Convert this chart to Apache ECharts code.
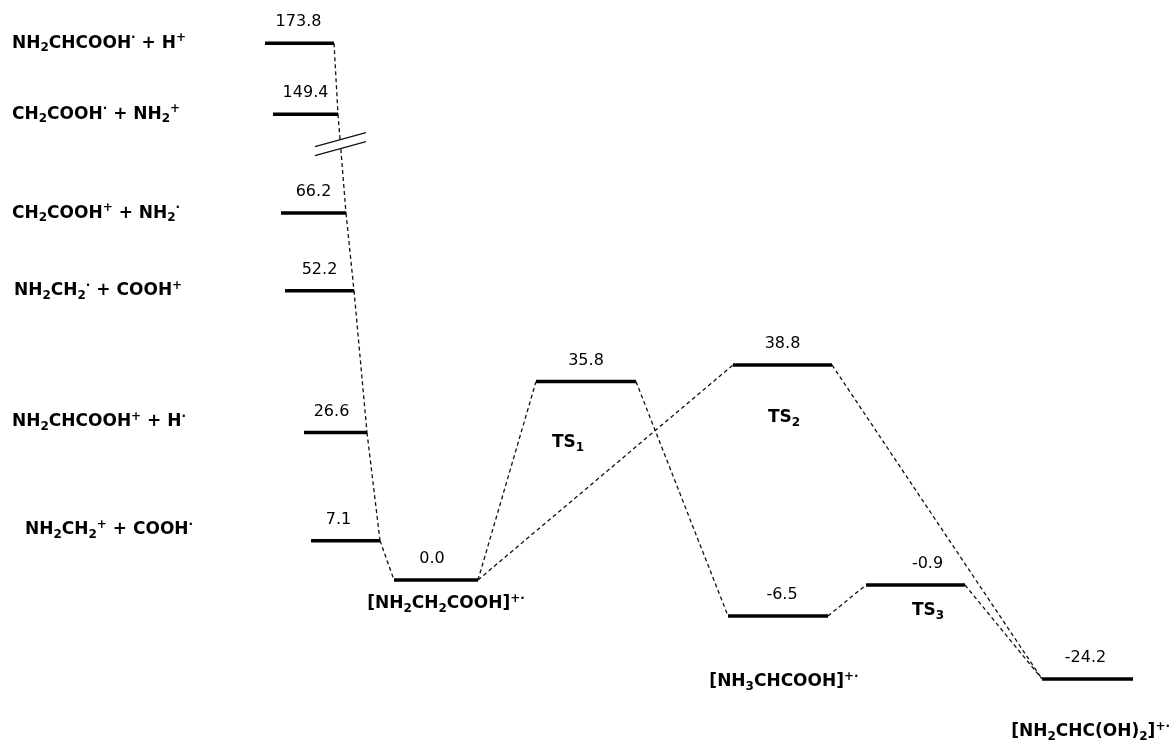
<!DOCTYPE html>
<html>
<head>
<meta charset="utf-8">
<script src="https://cdn.jsdelivr.net/npm/echarts@6.0.0/dist/echarts.min.js"></script>
<style>
  html, body { margin: 0; padding: 0; background: #fff; }
  #chart { width: 1171px; height: 740px; }
</style>
</head>
<body>
<div id="chart"></div>
<script>
// relative energies of each level
var energies = [173.8, 149.4, 66.2, 52.2, 26.6, 7.1, 0.0, 35.8, 38.8, -6.5, -0.9, -24.2];
// species / state names (rich text: s = subscript, p = superscript)
var species = [
    'NH{s|2}CHCOOH{p|·} + H{p|+}',
    'CH{s|2}COOH{p|·} + NH{s|2}{p|+}',
    'CH{s|2}COOH{p|+} + NH{s|2}{p|·}',
    'NH{s|2}CH{s|2}{p|·} + COOH{p|+}',
    'NH{s|2}CHCOOH{p|+} + H{p|·}',
    'NH{s|2}CH{s|2}{p|+} + COOH{p|·}',
    '[NH{s|2}CH{s|2}COOH]{p|+·}',
    'TS{s|1}',
    'TS{s|2}',
    '[NH{s|3}CHCOOH]{p|+·}',
    'TS{s|3}',
    '[NH{s|2}CHC(OH){s|2}]{p|+·}'
];
// dashed connections between levels [from, to]
var links = [[0,1],[1,2],[2,3],[3,4],[4,5],[5,6],[6,7],[6,8],[7,9],[9,10],[8,11],[10,11]];

// ---- layout (x on a 0..1171 axis, offsets in px) ----
var levelX = [[265,334],[273,338],[281,346],[285,354],[304,367],[311,380],
              [394,478],[536,636],[733,832],[728,828],[866,965],[1042,1133]];
var valueDx = [-1, 0, 0, 0, -4, -7, -4, 0, 0, 4, 12, -2];
// name label: [x, dy from level, align]
var nameAt = [[12,0,'left'],[12,0,'left'],[12,0,'left'],[14,0,'left'],[12,-11,'left'],[25,-11,'left'],
              [446,24,'center'],[568,61,'center'],[784,53,'center'],[784,66,'center'],[928,26,'center'],[1170,53,'right']];
var breakMarkAt = 144;

var FONT = 'DejaVu Sans';
var rich = {
    s: { fontFamily: FONT, fontSize: 12, fontWeight: 'bold', lineHeight: 12, verticalAlign: 'bottom' },
    p: { fontFamily: FONT, fontSize: 12, fontWeight: 'bold', lineHeight: 12, verticalAlign: 'top' }
};

function drawLevel(params, api) {
    var i = params.dataIndex;
    var e = api.value(1);
    var a = api.coord([api.value(0), e]);
    var b = api.coord([api.value(2), e]);
    var mid = (a[0] + b[0]) / 2;
    var nm = nameAt[i];
    var np = api.coord([nm[0], e]);
    return {
        type: 'group',
        children: [
            { type: 'line', shape: { x1: a[0], y1: a[1], x2: b[0], y2: b[1] },
              style: { stroke: '#000', lineWidth: 3.5 } },
            { type: 'text', style: { text: e.toFixed(1), x: mid + valueDx[i], y: a[1] - 21,
              fontFamily: FONT, fontSize: 16, fill: '#000', align: 'center', verticalAlign: 'middle' } },
            { type: 'text', style: { text: species[i], x: np[0], y: a[1] + nm[1],
              fontFamily: FONT, fontSize: 17, fontWeight: 'bold', lineHeight: 22, fill: '#000',
              align: nm[2], verticalAlign: 'middle', rich: rich } }
        ]
    };
}

function drawLink(params, api) {
    var a = api.coord([api.value(0), api.value(1)]);
    var b = api.coord([api.value(2), api.value(3)]);
    var children = [
        { type: 'line', shape: { x1: a[0], y1: a[1], x2: b[0], y2: b[1] },
          style: { stroke: '#111', lineWidth: 1.3, lineDash: [4, 3] } }
    ];
    // axis break mark on the link that crosses the gap
    if (params.dataIndex === 1) {
        var cy = api.coord([0, breakMarkAt])[1];
        var cx = a[0] + (b[0] - a[0]) * (cy - a[1]) / (b[1] - a[1]);
        var dx = 25.5, dy = 7, off = 4.5;
        children.push({ type: 'polygon', shape: { points: [
            [cx - dx, cy + dy - off], [cx + dx, cy - dy - off], [cx + dx, cy - dy + off], [cx - dx, cy + dy + off]] },
            style: { fill: '#fff' } });
        children.push({ type: 'line', shape: { x1: cx - dx, y1: cy + dy - off, x2: cx + dx, y2: cy - dy - off },
            style: { stroke: '#111', lineWidth: 1.2 } });
        children.push({ type: 'line', shape: { x1: cx - dx, y1: cy + dy + off, x2: cx + dx, y2: cy - dy + off },
            style: { stroke: '#111', lineWidth: 1.2 } });
    }
    return { type: 'group', children: children };
}

var levelData = energies.map(function (e, i) { return [levelX[i][0], e, levelX[i][1]]; });
var linkData = links.map(function (l) {
    var a = l[0], b = l[1];
    var toX = levelX[b][0] > levelX[a][1] ? levelX[b][0] : levelX[b][1];
    return [levelX[a][1], energies[a], toX, energies[b]];
});

var chart = echarts.init(document.getElementById('chart'));
chart.setOption({
    animation: false,
    backgroundColor: '#fff',
    grid: { left: 0, right: 0, top: 20, bottom: 40 },
    xAxis: { type: 'value', min: 0, max: 1171,
        axisLine: { show: false }, axisTick: { show: false }, axisLabel: { show: false }, splitLine: { show: false } },
    yAxis: { type: 'value', min: -28, max: 178,
        breaks: [
            { start: -20, end: -10, gap: 3.66 },
            { start: 72, end: 144, gap: 6.65 },
            { start: 153, end: 170, gap: 5.4 }
        ],
        breakArea: { show: false, itemStyle: { color: 'rgba(0,0,0,0)', borderColor: 'rgba(0,0,0,0)', borderWidth: 0, opacity: 0 } },
        axisLine: { show: false }, axisTick: { show: false }, axisLabel: { show: false }, splitLine: { show: false } },
    series: [
        { type: 'custom', name: 'links', renderItem: drawLink, data: linkData,
          encode: { x: [0, 2], y: [1, 3] }, clip: false, silent: true, z: 1 },
        { type: 'custom', name: 'levels', renderItem: drawLevel, data: levelData,
          encode: { x: [0, 2], y: 1 }, clip: false, silent: true, z: 2 }
    ]
});
</script>
</body>
</html>
